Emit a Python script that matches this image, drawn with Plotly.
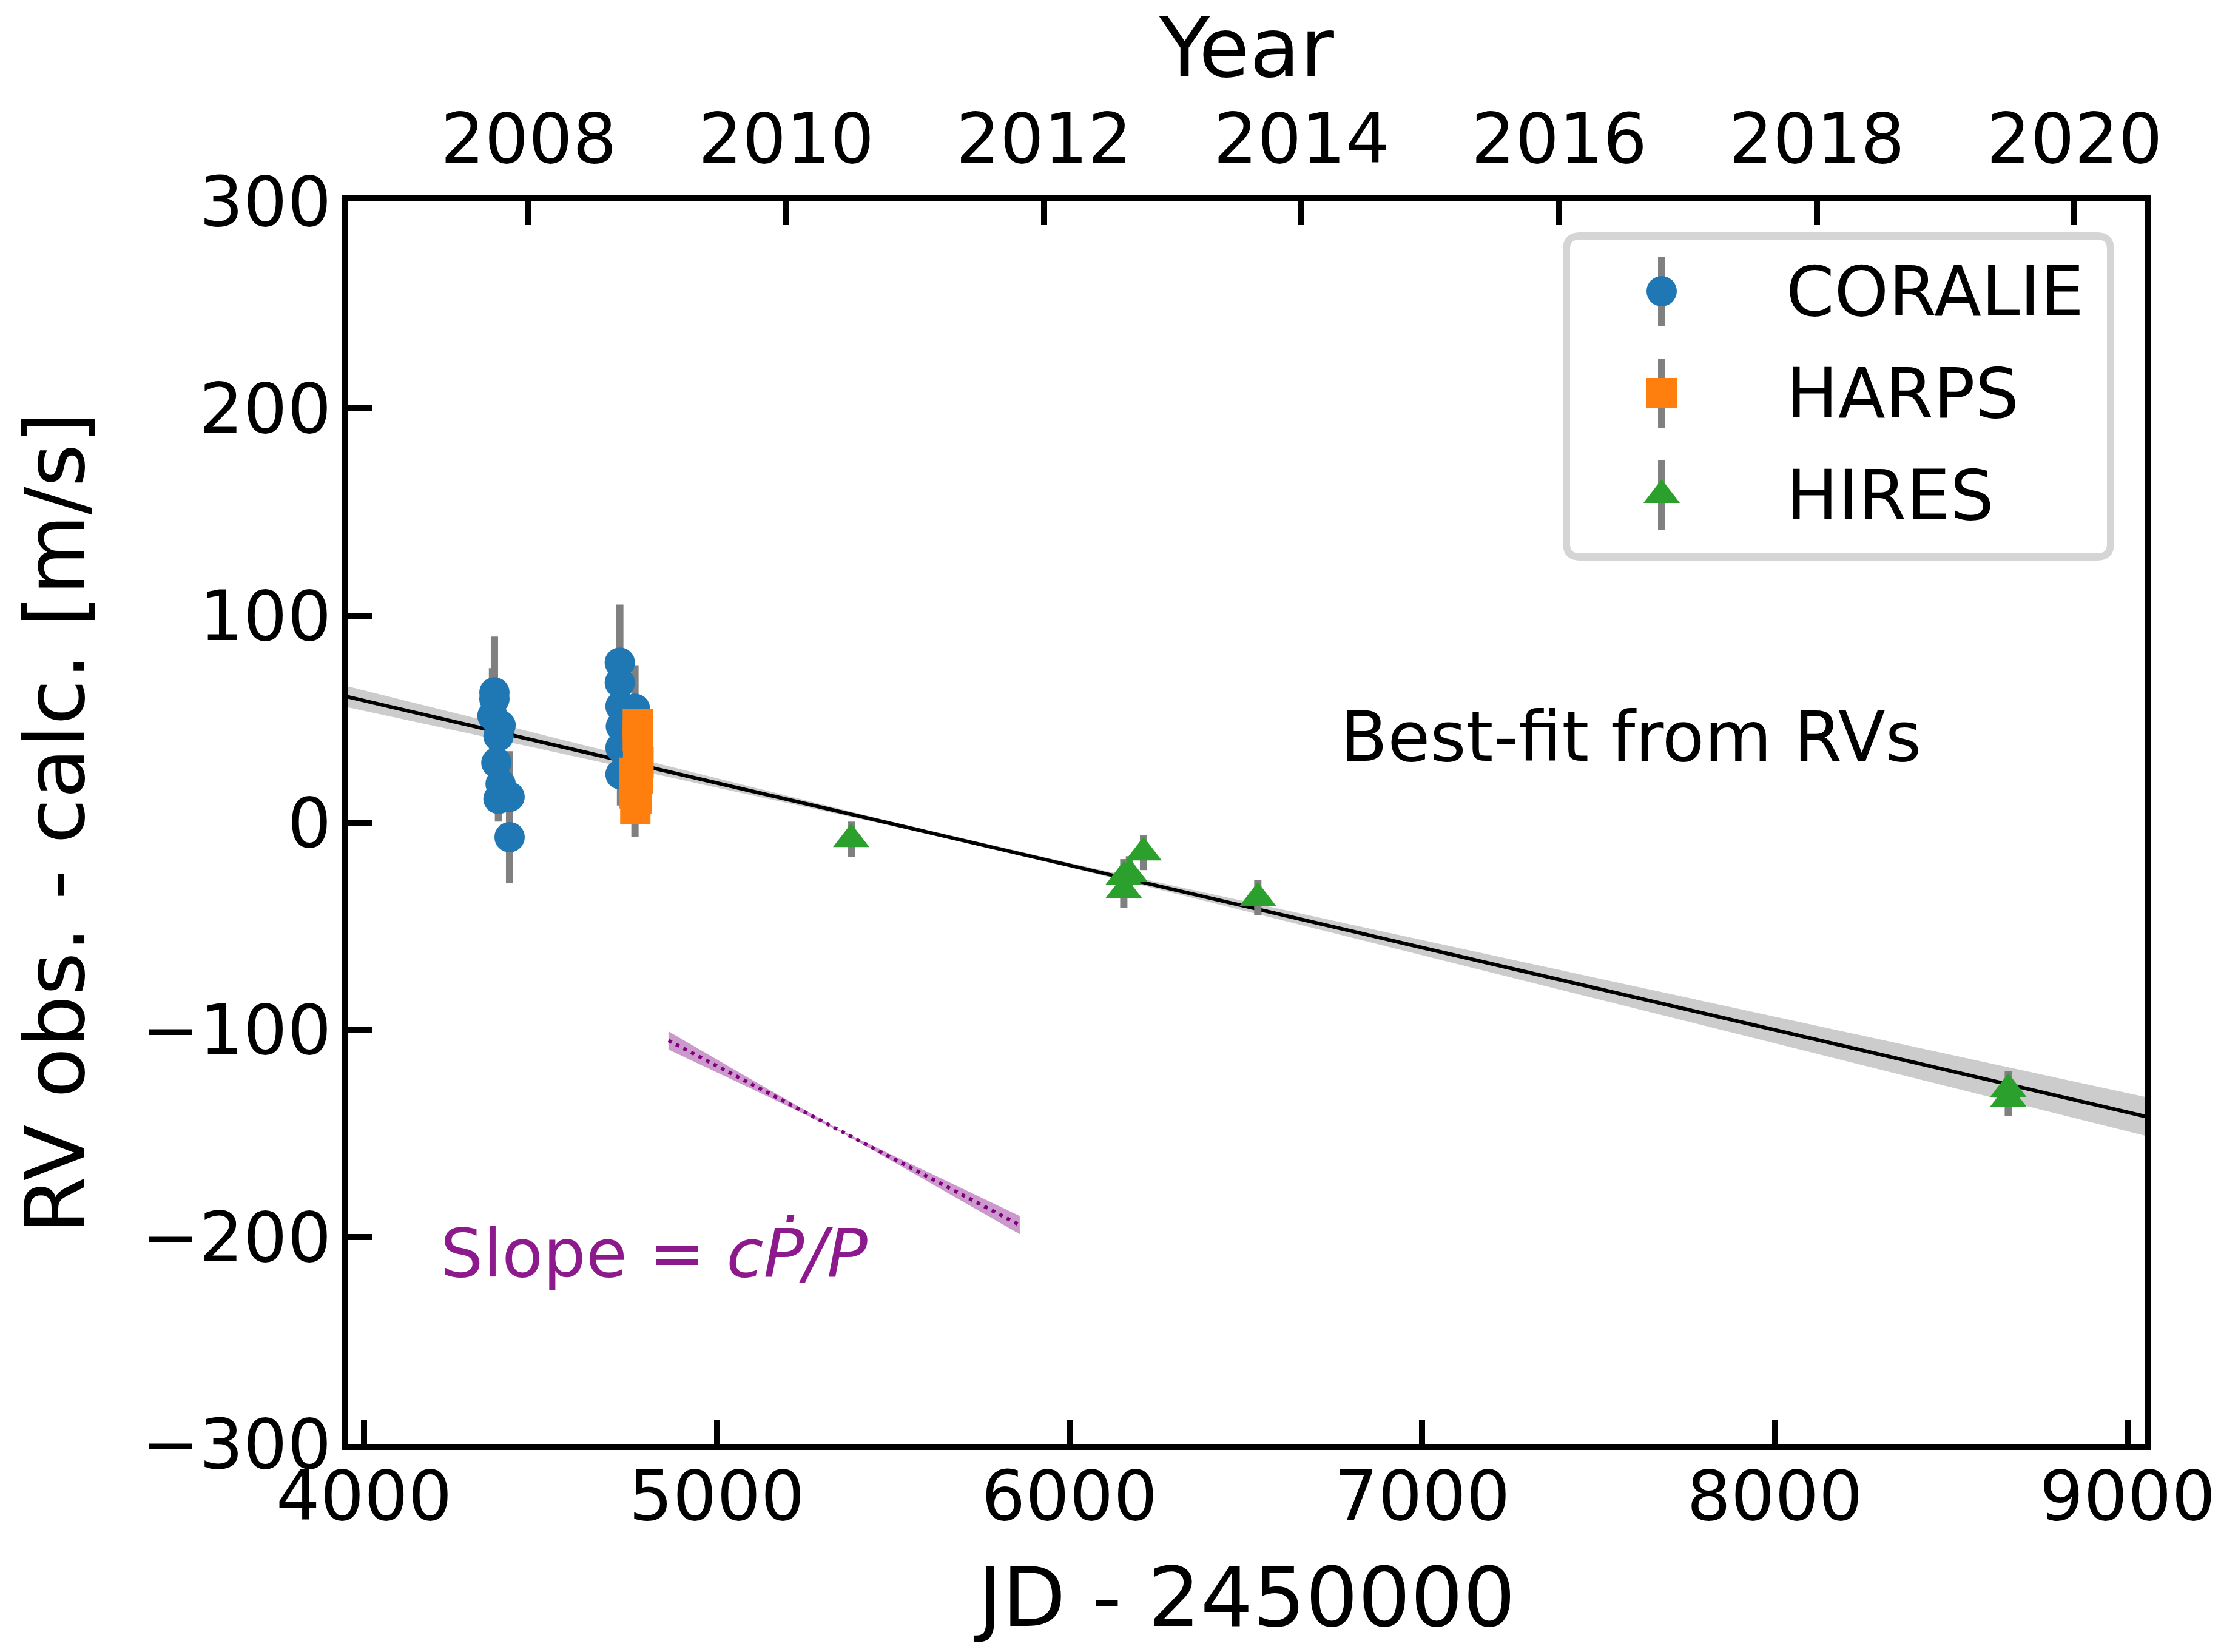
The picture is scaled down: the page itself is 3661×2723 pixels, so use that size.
import plotly.graph_objects as go

# ---------------- data ----------------
# CORALIE (JD - 2450000, RV residual [m/s], error)
coralie_jd = [4369.5, 4369.5, 4364, 4387, 4381, 4375, 4387, 4412.5, 4381, 4412.5,
              4725, 4725, 4727, 4768, 4728, 4727, 4727, 4768]
coralie_rv = [62.9, 59.8, 51.6, 47.0, 41.8, 29.0, 18.7, 12.5, 11.5, -7.0,
              77.3, 67.6, 56.2, 55.0, 46.5, 36.2, 23.3, 20.0]
coralie_err = [27, 14, 23, 12, 14, 15, 12, 22, 11, 22,
               28, 15, 14, 21, 12, 13, 15, 27]

# HARPS
harps_jd = [4776, 4776, 4777, 4778, 4767, 4777, 4767, 4773, 4769]
harps_rv = [47.6, 41.8, 35.9, 29.0, 24.1, 21.3, 14.1, 11.5, 6.7]
harps_err = [2.0, 2.0, 2.0, 2.0, 2.0, 2.0, 2.0, 2.0, 2.0]

# HIRES
hires_jd = [5381, 6154, 6154, 6170, 6210, 6534, 8662, 8662]
hires_rv = [-8.0, -32.6, -26.1, -24.7, -14.4, -36.3, -128.6, -133.3]
hires_err = [8.5, 8.5, 8.5, 8.5, 8.5, 8.5, 8.5, 8.5]

# Best-fit trend from RVs with its uncertainty band
fit_jd = [3900, 4500, 5000, 5500, 6000, 6500, 7000, 7500, 8000, 8500, 9100]
fit_rv = [62.9, 39.1, 19.2, -0.7, -20.5, -40.4, -60.3, -80.2, -100.1, -120.0, -143.8]
fit_upper = [68.1, 42.6, 21.4, 0.3, -19.5, -38.2, -56.7, -75.2, -93.7, -112.2, -134.3]
fit_lower = [57.7, 35.6, 17.0, -1.7, -21.5, -42.6, -63.9, -85.2, -106.5, -127.8, -153.3]

# Slope = c Pdot / P (illustrative segment with band)
slope_jd = [4863, 5100, 5350, 5600, 5859]
slope_rv = [-105.2, -126.4, -148.8, -171.2, -194.3]
slope_upper = [-100.8, -124.2, -148.5, -168.9, -189.9]
slope_lower = [-109.6, -128.6, -149.1, -173.5, -198.7]

# axis settings
x_range = [3955, 9050]
y_range = [-300, 300]
x_ticks = [4000, 5000, 6000, 7000, 8000, 9000]
y_ticks = [-300, -200, -100, 0, 100, 200, 300]
year_ticks = [2008, 2010, 2012, 2014, 2016, 2018, 2020]

legend_names = ["CORALIE", "HARPS", "HIRES"]
legend_colors = ["#1f77b4", "#ff7f0e", "#2ca02c"]
legend_symbols = ["circle", "square", "triangle-up"]


def jd_to_year(jd):
    return 2000.0 + (jd + 2450000.0 - 2451544.5) / 365.25


FONT = "DejaVu Sans"
TICK_SIZE = 114
TEXT_SIZE = 114
TITLE_SIZE = 136
W, H = 3661, 2723
ML, MR, MT, MB = 574, 125, 332, 343
PW = W - ML - MR
PH = H - MT - MB

fig = go.Figure()

# best-fit band
fig.add_trace(go.Scatter(
    x=fit_jd + fit_jd[::-1], y=fit_upper + fit_lower[::-1],
    fill="toself", fillcolor="#cccccc", line=dict(width=0),
    mode="lines", hoverinfo="skip", showlegend=False))
fig.add_trace(go.Scatter(
    x=fit_jd, y=fit_rv, mode="lines",
    line=dict(color="black", width=6), showlegend=False))

# slope band
fig.add_trace(go.Scatter(
    x=slope_jd + slope_jd[::-1], y=slope_upper + slope_lower[::-1],
    fill="toself", fillcolor="rgba(128,0,128,0.4)", line=dict(width=0),
    mode="lines", hoverinfo="skip", showlegend=False))
fig.add_trace(go.Scatter(
    x=slope_jd, y=slope_rv, mode="lines",
    line=dict(color="#800080", width=6, dash="6px,8px"), showlegend=False))

err_style = dict(type="data", color="#808080", thickness=12, width=0, visible=True)

fig.add_trace(go.Scatter(
    x=coralie_jd, y=coralie_rv, mode="markers", name="CORALIE",
    error_y=dict(array=coralie_err, **err_style),
    marker=dict(symbol="circle", size=50, color="#1f77b4", line=dict(width=0)),
    showlegend=False))
fig.add_trace(go.Scatter(
    x=harps_jd, y=harps_rv, mode="markers", name="HARPS",
    error_y=dict(array=harps_err, **err_style),
    marker=dict(symbol="square", size=50, color="#ff7f0e", line=dict(width=0)),
    showlegend=False))
fig.add_trace(go.Scatter(
    x=hires_jd, y=hires_rv, mode="markers", name="HIRES",
    error_y=dict(array=hires_err, **err_style),
    marker=dict(symbol="triangle-up", size=52, color="#2ca02c", line=dict(width=0)),
    showlegend=False))

# invisible trace so the top (year) axis is drawn
fig.add_trace(go.Scatter(
    x=[jd_to_year(x_range[0]), jd_to_year(x_range[1])], y=[0, 0],
    xaxis="x2", yaxis="y", mode="markers", marker=dict(opacity=0),
    hoverinfo="skip", showlegend=False))

# ---- custom legend (box, symbols with error bars, labels) ----
lx0, lx1 = (2582 - ML) / PW, (3479 - ML) / PW
ly1, ly0 = 1 - (389 - MT) / PH, 1 - (918 - MT) / PH
rx, ry = 22 / PW, 22 / PH
path = (f"M {lx0+rx},{ly1} L {lx1-rx},{ly1} Q {lx1},{ly1} {lx1},{ly1-ry} "
        f"L {lx1},{ly0+ry} Q {lx1},{ly0} {lx1-rx},{ly0} "
        f"L {lx0+rx},{ly0} Q {lx0},{ly0} {lx0},{ly0+ry} "
        f"L {lx0},{ly1-ry} Q {lx0},{ly1} {lx0+rx},{ly1} Z")
fig.add_shape(type="path", path=path, xref="paper", yref="paper",
              fillcolor="white", line=dict(color="#d5d5d5", width=12),
              layer="below")

row_px = [480, 648, 816]
mark_x = (2739 - ML) / PW
text_x = (2942 - ML) / PW
for name, col, sym, rp in zip(legend_names, legend_colors, legend_symbols, row_px):
    yy = 1 - (rp - MT) / PH
    fig.add_trace(go.Scatter(
        x=[mark_x], y=[yy], xaxis="x3", yaxis="y3", mode="markers",
        error_y=dict(type="constant", value=57 / PH, color="#808080",
                     thickness=12, width=0),
        marker=dict(symbol=sym, size=50 if sym != "triangle-up" else 52,
                    color=col, line=dict(width=0)),
        hoverinfo="skip", showlegend=False))
    fig.add_annotation(x=text_x, y=yy, xref="paper", yref="paper",
                       text=name, showarrow=False, xanchor="left",
                       yanchor="middle",
                       font=dict(family=FONT, size=TEXT_SIZE, color="black"))

# text annotations
fig.add_annotation(x=6764, y=41.6, xref="x", yref="y", text="Best-fit from RVs",
                   showarrow=False, xanchor="left", yanchor="middle",
                   font=dict(family=FONT, size=TEXT_SIZE, color="black"))
fig.add_annotation(x=4213, y=-208, xref="x", yref="y",
                   text="Slope = <i>c\u1E56/P</i>",
                   showarrow=False, xanchor="left", yanchor="middle",
                   font=dict(family=FONT, size=111, color="#8c1a8c"))

axis_common = dict(
    ticks="inside", ticklen=39, tickwidth=10, tickcolor="black",
    showgrid=False, zeroline=False, automargin=False,
    tickfont=dict(family=FONT, size=TICK_SIZE, color="black"),
)

fig.update_layout(
    width=W, height=H,
    margin=dict(l=ML, r=MR, t=MT, b=MB, pad=0),
    paper_bgcolor="white", plot_bgcolor="white",
    font=dict(family=FONT, color="black"),
    xaxis=dict(range=x_range, tickvals=x_ticks, showline=True, linewidth=10,
               linecolor="black", mirror=True,
               title=dict(text="JD - 2450000", standoff=58,
                          font=dict(family=FONT, size=TITLE_SIZE, color="black")),
               ticklabelstandoff=-22,
               **axis_common),
    yaxis=dict(range=y_range, tickvals=y_ticks, showline=True, linewidth=10,
               linecolor="black", mirror=True,
               title=dict(text="RV obs. - calc. [m/s]", standoff=52,
                          font=dict(family=FONT, size=TITLE_SIZE, color="black")),
               ticklabelstandoff=-5,
               **axis_common),
    xaxis2=dict(range=[jd_to_year(x_range[0]), jd_to_year(x_range[1])],
                overlaying="x", side="top", tickvals=year_ticks,
                showline=False,
                title=dict(text="Year", standoff=0,
                           font=dict(family=FONT, size=TITLE_SIZE, color="black")),
                ticklabelstandoff=40,
                **axis_common),
    xaxis3=dict(range=[0, 1], overlaying="x", visible=False, anchor="y3"),
    yaxis3=dict(range=[0, 1], overlaying="y", visible=False, anchor="x3"),
)

fig.write_html("out.html")
